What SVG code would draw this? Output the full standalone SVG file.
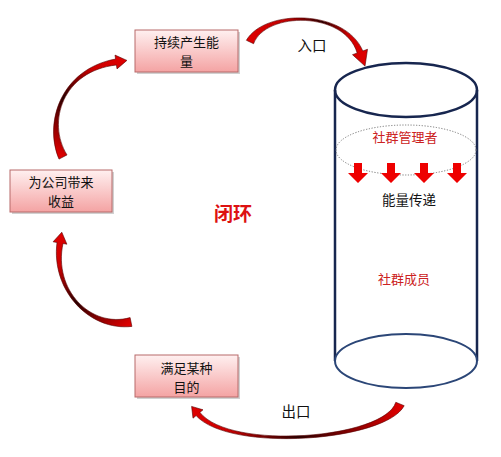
<svg xmlns="http://www.w3.org/2000/svg" width="501" height="457" viewBox="0 0 501 457">
<style>
text{font-family:"Noto Sans CJK SC","Noto Sans",sans-serif;text-anchor:middle}
.box{fill:url(#boxg);stroke:#b86a6a;stroke-width:1}
.shadow{fill:#000;opacity:0.18}
.bt{font-size:13px;fill:#111}
.red{fill:#cc2222;font-size:13px}
.cyl{fill:none;stroke:#17264f;stroke-width:2.5}
.down{fill:#ee0000}
</style>
<defs>
<linearGradient id="boxg" x1="0" y1="0" x2="0" y2="1">
<stop offset="0" stop-color="#fff0f0"/>
<stop offset="1" stop-color="#f4a3a3"/>
</linearGradient>
<linearGradient id="g1" gradientUnits="userSpaceOnUse" x1="63" y1="157" x2="122" y2="60">
<stop offset="0" stop-color="#dd0000"/><stop offset="0.45" stop-color="#2a0000"/><stop offset="0.8" stop-color="#cc0000"/><stop offset="1" stop-color="#dd0000"/>
</linearGradient>
<linearGradient id="g2" gradientUnits="userSpaceOnUse" x1="132" y1="322" x2="60" y2="236">
<stop offset="0" stop-color="#dd0000"/><stop offset="0.45" stop-color="#2a0000"/><stop offset="0.8" stop-color="#cc0000"/><stop offset="1" stop-color="#dd0000"/>
</linearGradient>
<linearGradient id="g3" gradientUnits="userSpaceOnUse" x1="400" y1="404" x2="194" y2="410">
<stop offset="0" stop-color="#dd0000"/><stop offset="0.5" stop-color="#2a0000"/><stop offset="0.85" stop-color="#cc0000"/><stop offset="1" stop-color="#dd0000"/>
</linearGradient>
<linearGradient id="g4" gradientUnits="userSpaceOnUse" x1="250" y1="42" x2="362" y2="60">
<stop offset="0" stop-color="#dd0000"/><stop offset="0.3" stop-color="#bb0000"/><stop offset="0.6" stop-color="#2a0000"/><stop offset="0.85" stop-color="#cc0000"/><stop offset="1" stop-color="#dd0000"/>
</linearGradient>
</defs>
<rect width="501" height="457" fill="#ffffff"/>

<g id="connectors">
<path d="M59.0,159.1 C43.5,122 61.2,69.1 115.6,59.0 L115.0,55.1 L126.9,60.4 L117.0,68.9 L116.4,65.0 C62.8,70.9 46.5,122 67.0,154.9 Z" fill="url(#g1)" stroke="#550000" stroke-width="0.6"/>
<path d="M131.9,326.4 C89.4,331.4 50.9,290.4 57.0,242.5 L53.1,241.8 L61.8,232.2 L66.9,244.2 L63.0,243.5 C53.1,289.6 90.6,328.6 130.1,317.6 Z" fill="url(#g2)" stroke="#550000" stroke-width="0.6"/>
<path d="M404.2,405.7 C385.4,441.4 229.9,453.0 196.1,415.6 L193.0,418.2 L191.6,406.4 L203.0,409.8 L199.9,412.4 C230.1,451.0 384.6,438.6 395.8,402.3 Z" fill="url(#g3)" stroke="#550000" stroke-width="0.6"/>
<path d="M246.4,40.3 C264.5,8.6 345.4,9.1 362.8,51.0 L367.5,49.3 L365.0,66.1 L352.5,54.7 L357.2,53.0 C344.6,10.9 265.5,11.4 253.6,43.7 Z" fill="url(#g4)" stroke="#550000" stroke-width="0.6"/>
<text x="312" y="51" style="font-size:14.5px;fill:#111">入口</text>
<text x="296" y="417" style="font-size:14.5px;fill:#111">出口</text>
</g>

<g id="node-energy">
<rect class="shadow" x="137" y="32" width="103" height="42"/>
<rect class="box" x="135" y="30" width="103" height="42"/>
<text class="bt" x="186.5" y="47">持续产生能</text>
<text class="bt" x="186.5" y="66">量</text>
</g>

<g id="node-revenue">
<rect class="shadow" x="12" y="172" width="102" height="42"/>
<rect class="box" x="10" y="170" width="102" height="42"/>
<text class="bt" x="61" y="187">为公司带来</text>
<text class="bt" x="61" y="206">收益</text>
</g>

<g id="node-purpose">
<rect class="shadow" x="137" y="357" width="103" height="42"/>
<rect class="box" x="135" y="355" width="103" height="42"/>
<text class="bt" x="186.5" y="372.5">满足某种</text>
<text class="bt" x="186.5" y="391.5">目的</text>
</g>

<g id="node-loop">
<text x="233" y="221" style="font-size:19px;font-weight:bold;fill:#dd1111">闭环</text>
</g>

<g id="node-community">
<line class="cyl" x1="335" y1="90" x2="335" y2="361"/>
<line class="cyl" x1="477" y1="90" x2="477" y2="361"/>
<ellipse cx="406" cy="361" rx="71" ry="27" fill="#ffffff" stroke="#2b4677" stroke-width="2"/>
<ellipse class="cyl" cx="406" cy="90" rx="71" ry="27"/>
<ellipse cx="406" cy="150" rx="70" ry="25" fill="none" stroke="#777" stroke-width="1" stroke-dasharray="1.2,1.6"/>
<text class="red" x="405" y="142">社群管理者</text>
<g class="down">
<path d="M354,163 h8 v10 h6 l-10,10 l-10,-10 h6 z"/>
<path d="M387,163 h8 v10 h6 l-10,10 l-10,-10 h6 z"/>
<path d="M420,163 h8 v10 h6 l-10,10 l-10,-10 h6 z"/>
<path d="M453,163 h8 v10 h6 l-10,10 l-10,-10 h6 z"/>
</g>
<text x="409" y="205" style="font-size:13.5px;fill:#111">能量传递</text>
<text class="red" x="404" y="284">社群成员</text>
</g>
</svg>
